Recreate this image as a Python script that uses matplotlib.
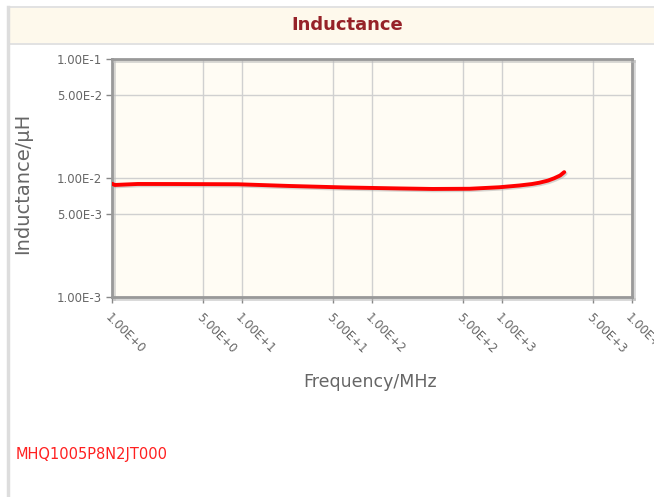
import matplotlib
matplotlib.use("Agg")
import matplotlib.pyplot as plt
from matplotlib.patches import Rectangle
from matplotlib.lines import Line2D
import matplotlib.patheffects as pe

freq_mhz = [1.0, 1.05, 1.58, 3.05, 9.3, 23.3, 61.6, 163, 292, 563, 953, 1360, 1700, 1940, 2250, 2520, 2800, 3010]
inductance_uh = [8.95e-3, 8.74e-3, 8.91e-3, 8.9e-3, 8.86e-3, 8.57e-3, 8.33e-3, 8.17e-3, 8.09e-3,
                 8.12e-3, 8.36e-3, 8.65e-3, 8.9e-3, 9.13e-3, 9.5e-3, 9.95e-3, 1.05e-2, 1.12e-2]
xticks = [1, 5, 10, 50, 100, 500, 1000, 5000, 10000]
xtick_labels = ["1.00E+0", "5.00E+0", "1.00E+1", "5.00E+1", "1.00E+2", "5.00E+2",
                "1.00E+3", "5.00E+3", "1.00E+4"]
yticks = [1e-3, 5e-3, 1e-2, 5e-2, 1e-1]
ytick_labels = ["1.00E-3", "5.00E-3", "1.00E-2", "5.00E-2", "1.00E-1"]
title = "Inductance"
part_no = "MHQ1005P8N2JT000"

W, H = 654, 497
fig = plt.figure(figsize=(W / 100, H / 100), dpi=100)
fig.patch.set_facecolor("white")

def fx(px):
    return px / W

def fy(py):
    return 1 - py / H

# title bar
fig.patches.append(Rectangle((fx(8), fy(43)), fx(646), (43 - 8) / H, transform=fig.transFigure,
                             facecolor="#FEF9EC", edgecolor="none", zorder=0))
fig.lines.append(Line2D([fx(8), 1], [fy(7), fy(7)], transform=fig.transFigure, color="#DDDDDD", lw=1.2))
fig.lines.append(Line2D([fx(8), 1], [fy(43.5), fy(43.5)], transform=fig.transFigure, color="#DDDDDD", lw=1.2))
# left border
fig.lines.append(Line2D([fx(8), fx(8)], [0, fy(7)], transform=fig.transFigure, color="#DDDDDD", lw=2.5))
fig.text(fx(347), fy(25), title, ha="center", va="center", fontsize=13, fontweight="bold",
         color="#962228")

ax = fig.add_axes([fx(112), fy(297), fx(632) - fx(112), (297 - 59) / H])
ax.set_facecolor("#FFFCF4")
ax.set_xscale("log")
ax.set_yscale("log")
ax.set_xlim(1, 10000)
ax.set_ylim(1e-3, 1e-1)

ax.plot(freq_mhz, inductance_uh, color="#FF0000", lw=2.8, solid_capstyle="round", solid_joinstyle="round", zorder=3,
        path_effects=[pe.SimpleLineShadow(offset=(1, -1), shadow_color="#999999", alpha=0.4), pe.Normal()])

ax.set_xticks(xticks)
ax.set_xticklabels(xtick_labels)
ax.set_yticks(yticks)
ax.set_yticklabels(ytick_labels)
ax.minorticks_off()
ax.grid(True, color="#D0D0D0", lw=1.0, zorder=0)
ax.set_axisbelow(True)

for lab in ax.get_xticklabels():
    lab.set_rotation(-45)
    lab.set_ha("left")
    lab.set_va("top")
    lab.set_rotation_mode("anchor")
ax.tick_params(axis="x", colors="#888888", labelcolor="#666666", labelsize=8.5, length=4, width=1, pad=6)
ax.tick_params(axis="y", colors="#888888", labelcolor="#666666", labelsize=8.5, length=4, width=1, pad=3)

for s in ax.spines.values():
    s.set_color("#999999")
    s.set_linewidth(2)
    s.set_path_effects([pe.SimpleLineShadow(offset=(1.5, -1.5), shadow_color="#BBBBBB", alpha=0.6), pe.Normal()])

fig.text(fx(23), fy(183), "Inductance/μH", ha="center", va="center", rotation=90, fontsize=14, color="#666666")
fig.text(fx(370), fy(382), "Frequency/MHz", ha="center", va="center", fontsize=12.5, color="#666666")
fig.text(fx(16), fy(454), part_no, ha="left", va="center", fontsize=10.5, color="#FF2020")

fig.savefig("out.png", dpi=100)
